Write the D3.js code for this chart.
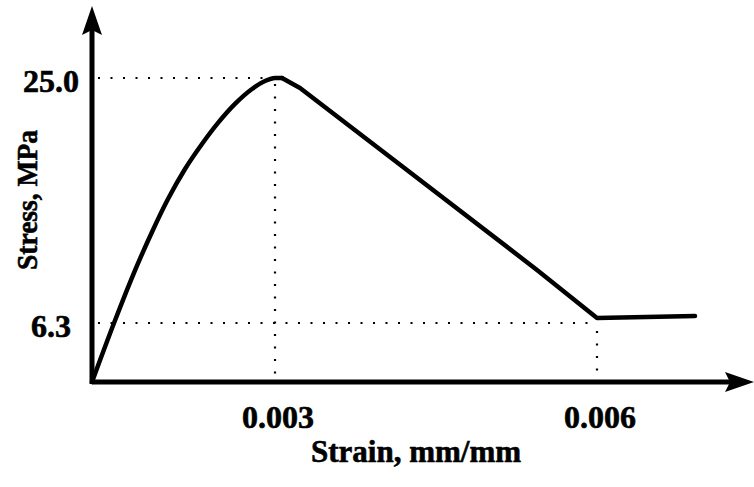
<!DOCTYPE html>
<html>
<head>
<meta charset="utf-8">
<script src="https://cdn.jsdelivr.net/npm/d3@7"></script>
<style>
  html, body { margin: 0; padding: 0; background: #fff; }
  svg { display: block; }
  text { font-family: "Liberation Serif", "Times New Roman", serif; font-weight: bold; fill: #000; stroke: #000; stroke-width: 0.6; }
</style>
</head>
<body>
<svg id="chart" width="754" height="487"></svg>
<script>
// ---- data ----
// ascending (pre-peak) branch
const strainAsc = [0, 0.000361, 0.000639, 0.000984, 0.001246, 0.001525, 0.001803, 0.002066, 0.002344, 0.002623, 0.002836, 0.003, 0.003065];
const stressAsc = [0, 6.3, 9.58, 13.25, 15.76, 18.05, 19.96, 21.57, 23.02, 24.16, 24.77, 25.0, 25.0];
// softening branch and residual plateau
const strainDesc = [0.003065, 0.003233, 0.004193, 0.005441, 0.006, 0.006913];
const stressDesc = [25.0, 24.24, 18.21, 10.35, 6.68, 6.83];
const xTickValues = [0.003, 0.006];
const xTickLabels = ["0.003", "0.006"];
const yTickValues = [6.3, 25.0];
const yTickLabels = ["6.3", "25.0"];
const xTitle = "Strain, mm/mm";
const yTitle = "Stress, MPa";

// ---- scales (schematic, piecewise) ----
const x = d3.scaleLinear().domain([0, 0.003, 0.006]).range([92, 275, 597]);
const y = d3.scaleLinear().domain([0, 6.3, 25]).range([382, 323, 78]);

const svg = d3.select("#chart");
const asc = strainAsc.map((s, i) => [s, stressAsc[i]]);
const desc = strainDesc.map((s, i) => [s, stressDesc[i]]);

// dotted guide lines
const guides = svg.append("g").attr("stroke", "#000").attr("stroke-width", 2.2)
  .attr("stroke-dasharray", "2,10.5").attr("fill", "none");
guides.append("line").attr("x1", x(0) + 6).attr("x2", x(0.003)).attr("y1", y(25)).attr("y2", y(25));
guides.append("line").attr("x1", x(0.003)).attr("x2", x(0.003)).attr("y1", y(25) + 6).attr("y2", y(0) - 4);
guides.append("line").attr("x1", x(0) + 6).attr("x2", x(0.006)).attr("y1", y(6.3)).attr("y2", y(6.3));
guides.append("line").attr("x1", x(0.006)).attr("x2", x(0.006)).attr("y1", y(6.3) + 8).attr("y2", y(0) - 4);

// axes
const axisG = svg.append("g");
axisG.append("line").attr("x1", x(0)).attr("x2", 740).attr("y1", y(0)).attr("y2", y(0))
  .attr("stroke", "#000").attr("stroke-width", 5);
axisG.append("line").attr("x1", x(0)).attr("x2", x(0)).attr("y1", y(0) + 2).attr("y2", 22)
  .attr("stroke", "#000").attr("stroke-width", 5);
const ax = x(0);
axisG.append("path")
  .attr("d", `M${ax},6 L${ax + 10},35 L${ax},30 L${ax - 10},35 Z`)
  .attr("fill", "#000");
const ay = y(0);
axisG.append("path")
  .attr("d", `M754,${ay} L725,${ay - 10} L730,${ay} L725,${ay + 10} Z`)
  .attr("fill", "#000");

// curve
const curveAsc = d3.line().x(d => x(d[0])).y(d => y(d[1])).curve(d3.curveMonotoneX);
const curveDesc = d3.line().x(d => x(d[0])).y(d => y(d[1])).curve(d3.curveLinear);
const curveStyle = sel => sel.attr("fill", "none").attr("stroke", "#000").attr("stroke-width", 4.5)
  .attr("stroke-linejoin", "round").attr("stroke-linecap", "round");
svg.append("path").datum(asc).attr("d", curveAsc).call(curveStyle);
svg.append("path").datum(desc).attr("d", curveDesc).call(curveStyle);

// tick labels
svg.append("g").selectAll("text").data(yTickValues).join("text")
  .attr("x", 51).attr("y", d => y(d) + 13.5)
  .attr("text-anchor", "middle").attr("font-size", 32)
  .text((d, i) => yTickLabels[i]);
svg.append("g").selectAll("text").data(xTickValues).join("text")
  .attr("x", d => x(d) + 3).attr("y", 428)
  .attr("text-anchor", "middle").attr("font-size", 32)
  .text((d, i) => xTickLabels[i]);

// titles
svg.append("text").attr("x", 416).attr("y", 462).attr("text-anchor", "middle")
  .attr("font-size", 31).text(xTitle);
svg.append("text").attr("transform", "translate(37,200) rotate(-90)")
  .attr("text-anchor", "middle").attr("font-size", 30)
  .attr("textLength", 140).attr("lengthAdjust", "spacingAndGlyphs")
  .text(yTitle);
</script>
</body>
</html>
